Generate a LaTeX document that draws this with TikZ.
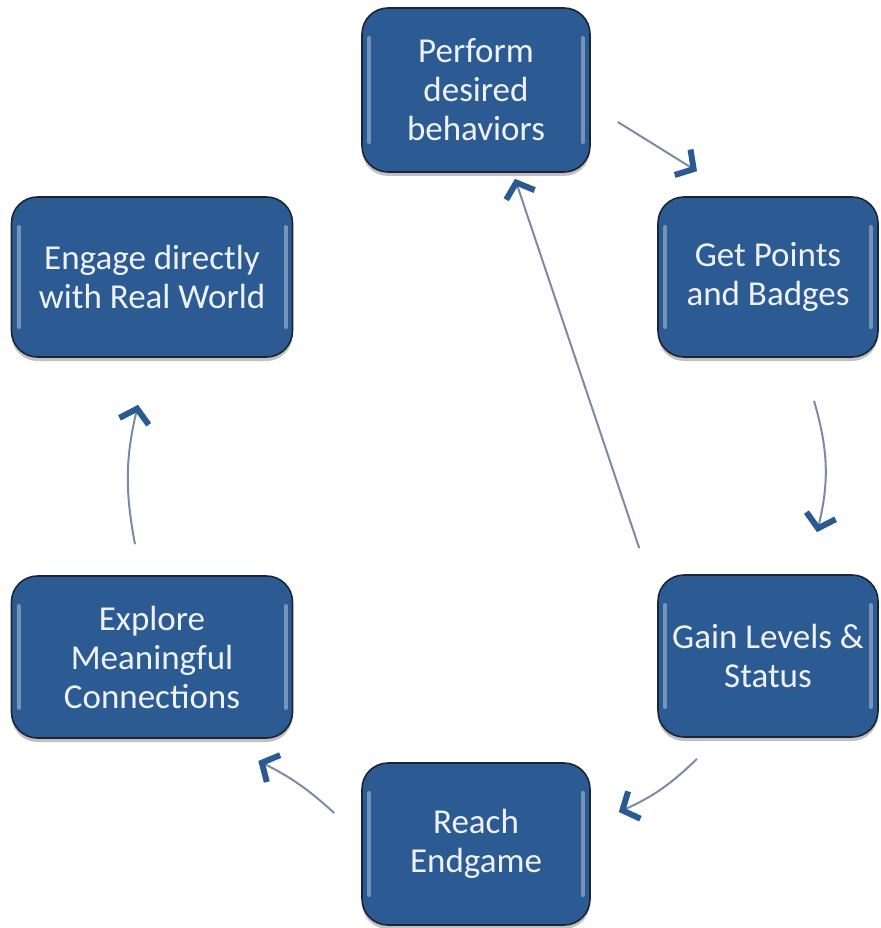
\documentclass[tikz,border=0pt]{standalone}
\usepackage{fontspec}
\setmainfont{Carlito}
\usetikzlibrary{arrows.meta,shadows,positioning}

\definecolor{boxblue}{HTML}{2C5B93}
\definecolor{boxrim}{HTML}{1C2633}
\definecolor{shaftgrey}{HTML}{7B8BA6}
\definecolor{tipblue}{HTML}{2B5A93}

\begin{document}
\begin{tikzpicture}[x=1pt, y=-1pt,
    stage/.style={draw=boxrim, line width=1.6pt, fill=boxblue, rounded corners=26pt,
      text=white!92!boxblue, align=center, font=\fontsize{35}{39}\selectfont,
      drop shadow={shadow xshift=0pt, shadow yshift=-4pt, opacity=0.35, fill=black!70},
      path picture={
        \draw[white, opacity=0.35, line width=4pt, line cap=round]
          ([xshift=7pt,yshift=-30pt]path picture bounding box.north west) -- ([xshift=7pt,yshift=30pt]path picture bounding box.south west)
          ([xshift=-7pt,yshift=-30pt]path picture bounding box.north east) -- ([xshift=-7pt,yshift=30pt]path picture bounding box.south east);
      }},
    flow/.style={shaftgrey, line width=2pt,
      -{Straight Barb[length=13pt, width=30pt, line width=6pt, color=tipblue]}}]
  \useasboundingbox (0,0) rectangle (880,928);

  % the six stages of the loop
  \node[stage, minimum width=228pt, minimum height=164pt] (perform) at (476,90) {Perform\\desired\\behaviors};
  \node[stage, minimum width=220pt, minimum height=160pt] (points) at (768,277) {Get Points\\and Badges};
  \node[stage, minimum width=220pt, minimum height=162pt] (levels) at (768,656) {Gain Levels \&\\Status};
  \node[stage, minimum width=228pt, minimum height=162pt] (endgame) at (476,844) {Reach\\Endgame};
  \node[stage, minimum width=281pt, minimum height=162pt] (explore) at (152,657) {Explore\\Meaningful\\Connections};
  \node[stage, minimum width=281pt, minimum height=160pt] (engage) at (152,277) {Engage directly\\with Real World};

  % arrows between them
  \draw[flow] ([shift={(27,32)}]perform.east) -- ([shift={(-71,-25)}]points.north);
  \draw[flow] ([shift={(46,43)}]points.south) to[bend left=15] ([shift={(49,-42)}]levels.north);
  \draw[flow] ([shift={(-71,21)}]levels.south) to[bend left=10] ([shift={(28,-32)}]endgame.east);
  \draw[flow] ([shift={(-27,-31)}]endgame.west) to[bend right=8] ([shift={(-35,104)}]explore.east);
  \draw[flow] ([shift={(-17,-31)}]explore.north) to[bend left=12] ([shift={(-14,47)}]engage.south);
  \draw[flow] ([shift={(-18,-108)}]levels.west) -- ([shift={(39,6)}]perform.south);
\end{tikzpicture}
\end{document}
